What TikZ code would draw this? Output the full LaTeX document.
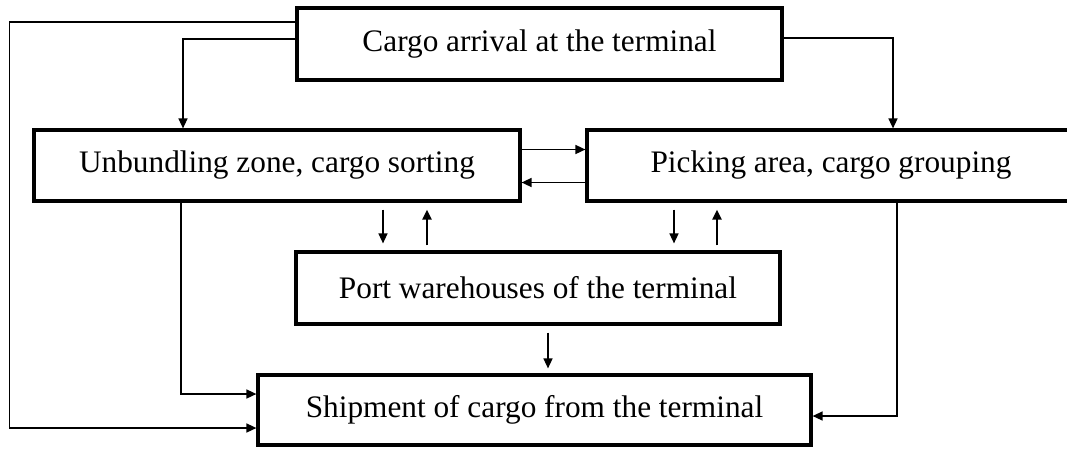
\documentclass[tikz,border=0pt]{standalone}
\usepackage{fontspec}
\setmainfont{Liberation Serif}
\usepackage{tikz}
\usetikzlibrary{
	positioning,
	arrows.meta
}
\tikzset{
	box/.style={
		draw,
		line width=3.2pt,
		inner sep=0pt,
		font=\fontsize{31.3}{37}\selectfont
	},
	link/.style={
		line width=1.5pt,
		-{Triangle[length=10pt,width=9pt]}
	}
}

\begin{document}
\begin{tikzpicture}[x=1pt,y=-1pt]
		\clip (0,0) rectangle (1067,448);
		\draw
			node [box,minimum width=485pt,minimum height=72pt] (arrival)  at (539.5,44)  {Cargo arrival at the terminal}
			node [box,minimum width=486pt,minimum height=71pt] (unbundle) at (277,165.5) {Unbundling zone, cargo sorting}
			node [box,minimum width=488pt,minimum height=71pt] (picking)  at (831,165.5) {Picking area, cargo grouping}
			node [box,minimum width=484pt,minimum height=72pt] (port)     at (538,288)   {Port warehouses of the terminal}
			node [box,minimum width=553pt,minimum height=70pt] (shipment) at (534.5,410) {Shipment of cargo from the terminal}
		;

		\draw[link] ([yshift=22pt]arrival.west) -| ([xshift=-23pt]unbundle.west) |- ([yshift=-18pt]shipment.west);
		\draw[link] ([yshift=5pt]arrival.west) -| ([xshift=-94pt]unbundle.north);
		\draw[link] ([yshift=6pt]arrival.east) -| ([xshift=62pt]picking.north);

		\draw[link] ([yshift=16pt]unbundle.east) -- ([yshift=16pt]picking.west);
		\draw[link] ([yshift=-17pt]picking.west) -- ([yshift=-17pt]unbundle.east);

		\draw[link] ([xshift=-96pt]unbundle.south) |- ([yshift=16pt]shipment.west);
		\draw[link] ([xshift=66pt]picking.south) |- ([yshift=-6pt]shipment.east);

		\foreach \n/\down/\up in {unbundle/106/150,picking/-157/-114} {
			\draw[link,shorten <=7pt,shorten >=7pt]
				([xshift=\down pt]\n.south) -- ([xshift=\down pt]\n.south |- port.north);
			\draw[link,line width=2.2pt,shorten <=5pt,shorten >=7pt]
				([xshift=\up pt]\n.south |- port.north) -- ([xshift=\up pt]\n.south);
		}

		\draw[link,shorten <=7pt,shorten >=5pt] ([xshift=10pt]port.south) -- ([xshift=10pt]port.south |- shipment.north);
	\end{tikzpicture}
\end{document}
